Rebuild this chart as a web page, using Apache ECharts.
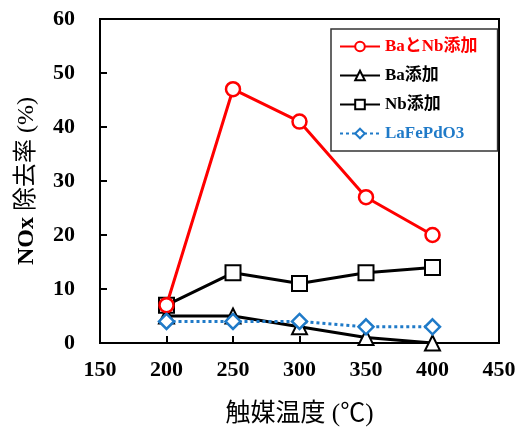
<!DOCTYPE html>
<html><head><meta charset="utf-8">
<script src="https://cdn.jsdelivr.net/npm/echarts@6/dist/echarts.min.js"></script>
<style>html,body{margin:0;padding:0;background:#fff}#c{width:519px;height:430px}</style>
</head><body><div id="c"></div>
<script>
const temps = [200, 250, 300, 350, 400];
const baNb = [7, 47, 41, 27, 20];
const ba = [5, 5, 3, 1, 0];
const nb = [7, 13, 11, 13, 14];
const lafe = [4, 4, 4, 3, 3];
const names = ['BaとNb添加', 'Ba添加', 'Nb添加', 'LaFePdO3'];
const xTicks = [150, 200, 250, 300, 350, 400, 450];
const yTicks = [0, 10, 20, 30, 40, 50, 60];

const serif = '"Liberation Serif","Times New Roman","Noto Sans CJK JP",serif';
const pair = v => temps.map((t, i) => [t, v[i]]);
const chart = echarts.init(document.getElementById('c'));
chart.setOption({
  animation: false,
  grid: {left: 100, right: 20, top: 19, bottom: 87, show: true, borderColor: '#000', borderWidth: 2,
         containLabel: false, outerBoundsMode: 'none'},
  legend: {
    orient: 'vertical', left: 331, top: 29, width: 165,
    padding: [9, 20, 9, 8], itemGap: 12,
    borderColor: '#333', borderWidth: 1.5,
    itemWidth: 40, itemHeight: 12,
    textStyle: {fontFamily: serif, fontWeight: 'bold', fontSize: 17},
    data: [
      {name: names[0], textStyle: {color: '#ff0000'}},
      {name: names[1], textStyle: {color: '#000'}},
      {name: names[2], textStyle: {color: '#000'}},
      {name: names[3], textStyle: {color: '#1f7ac8'}}
    ]
  },
  xAxis: {
    type: 'value', min: xTicks[0], max: xTicks[xTicks.length - 1], interval: 50,
    axisLine: {onZero: false, lineStyle: {color: '#000', width: 2}},
    axisTick: {inside: true, length: 7, lineStyle: {color: '#000', width: 2}},
    splitLine: {show: false},
    axisLabel: {margin: 16, color: '#000', fontFamily: serif, fontWeight: 'bold', fontSize: 22},
    name: '触媒温度 (℃)', nameLocation: 'middle', nameGap: 59,
    nameTextStyle: {color: '#000', fontFamily: serif, fontSize: 25}
  },
  yAxis: {
    type: 'value', min: yTicks[0], max: yTicks[yTicks.length - 1], interval: 10,
    axisLine: {lineStyle: {color: '#000', width: 2}},
    axisTick: {inside: true, length: 7, lineStyle: {color: '#000', width: 2}},
    splitLine: {show: false},
    axisLabel: {margin: 25, color: '#000', fontFamily: serif, fontWeight: 'bold', fontSize: 22},
    name: '{b|NOx} 除去率 (%)', nameLocation: 'middle', nameGap: 61,
    nameTextStyle: {color: '#000', fontFamily: serif, fontSize: 24,
      rich: {b: {fontFamily: serif, fontSize: 24, fontWeight: 'bold', color: '#000'}}}
  },
  series: [
    {name: names[0], type: 'line', data: pair(baNb), symbol: 'circle', symbolSize: 14,
     lineStyle: {color: '#ff0000', width: 3}, itemStyle: {color: '#fff', borderColor: '#ff0000', borderWidth: 2.5}, z: 5},
    {name: names[1], type: 'line', data: pair(ba), symbol: 'triangle', symbolSize: 15,
     lineStyle: {color: '#000', width: 3}, itemStyle: {color: '#fff', borderColor: '#000', borderWidth: 2}, z: 3},
    {name: names[2], type: 'line', data: pair(nb), symbol: 'rect', symbolSize: 15,
     lineStyle: {color: '#000', width: 3}, itemStyle: {color: '#fff', borderColor: '#000', borderWidth: 2}, z: 4},
    {name: names[3], type: 'line', data: pair(lafe), symbol: 'diamond', symbolSize: 15,
     lineStyle: {color: '#1f7ac8', width: 3, type: [3, 3]}, itemStyle: {color: '#fff', borderColor: '#1f7ac8', borderWidth: 2.5}, z: 6}
  ]
});
</script></body></html>
